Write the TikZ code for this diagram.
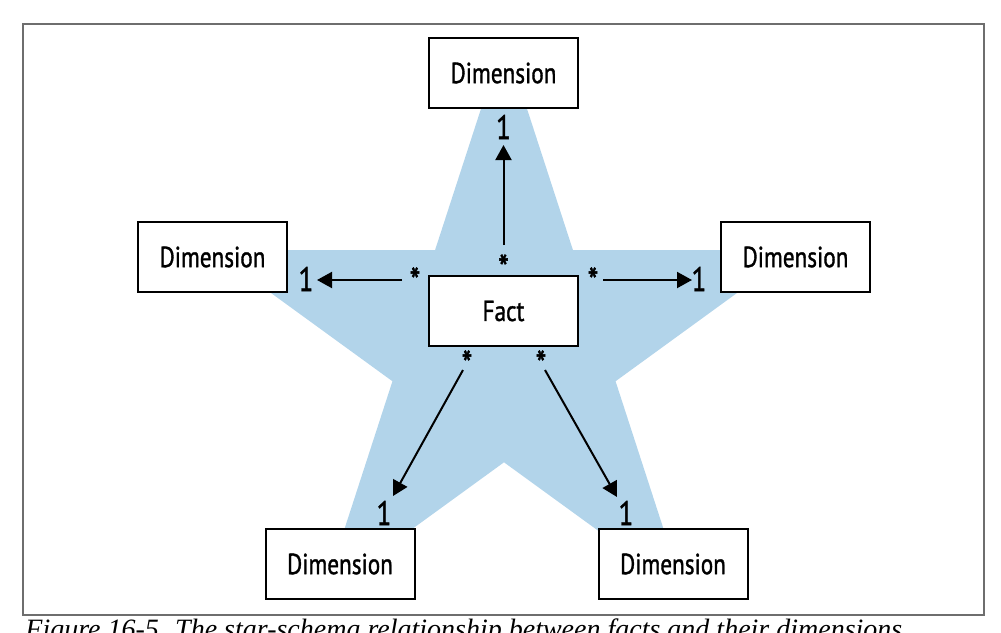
\documentclass[tikz,border=0pt]{standalone}
\usepackage{fontspec}
\setmainfont{PT Sans}[FakeStretch=0.8, FakeBold=1.2]
\newfontfamily\capfont{Liberation Serif}
\definecolor{starblue}{RGB}{178,212,234}
\definecolor{framegray}{RGB}{110,110,110}
\tikzset{
  card/.style={draw, line width=1pt, fill=white, minimum width=74.5pt,
    minimum height=35pt, inner sep=0pt, font=\fontsize{14.5}{16}\selectfont},
  mult/.style={inner sep=0pt, font=\fontsize{17}{19}\selectfont},
  many/.style={inner sep=0pt, font=\fontsize{19}{21}\selectfont},
  link/.style={line width=1pt, -{Triangle[length=7.5pt,width=8pt]}}
}
\usetikzlibrary{arrows.meta}
\begin{document}
\begin{tikzpicture}[x=0.5pt,y=-0.5pt]
  \useasboundingbox (0,0) rectangle (1001,632);
  \clip (0,0) rectangle (1001,632);
  % frame and caption
  \draw[framegray, line width=0.75pt] (23,24) rectangle (984,615);
  \node[anchor=north west, inner sep=0pt, font=\capfont\itshape\fontsize{14}{16}\selectfont]
    (caption) at (25,618) {Figure 16-5. The star-schema relationship between facts and their dimensions};
  % the star behind everything
  \begin{scope}[shift={(504,345)}]
    \fill[starblue] (270:307) -- (306:117.3) -- (342:307) -- (18:117.3)
      -- (54:307) -- (90:117.3) -- (126:307) -- (162:117.3)
      -- (198:307) -- (234:117.3) -- cycle;
  \end{scope}
  % tables
  \node[card] (fact)   at (503.5,311) {Fact};
  \node[card] (dtop)   at (503.5,73)  {Dimension};
  \node[card] (dleft)  at (212.5,257) {Dimension};
  \node[card] (dright) at (795.5,257) {Dimension};
  \node[card] (dbl)    at (340,564)   {Dimension};
  \node[card] (dbr)    at (673,564)   {Dimension};
  % multiplicities
  \node[many] (stop)   at (503.5,268) {*};
  \node[mult] (otop)   at (503.5,127) {1};
  \node[many] (sleft)  at (415,281)   {*};
  \node[mult] (oleft)  at (306,279)   {1};
  \node[many] (sright) at (593,281)   {*};
  \node[mult] (oright) at (699,279)   {1};
  \node[many] (sbl)    at (467,364)   {*};
  \node[mult] (obl)    at (384,513)   {1};
  \node[many] (sbr)    at (541,364)   {*};
  \node[mult] (obr)    at (626,513)   {1};
  % arrow ends
  \coordinate (atop)   at (503.5,245);
  \coordinate (btop)   at (503.5,145);
  \coordinate (aleft)  at (402,280);
  \coordinate (bleft)  at (317,280);
  \coordinate (aright) at (603,280);
  \coordinate (bright) at (692,280);
  \coordinate (abl)    at (463,370);
  \coordinate (bbl)    at (393,496);
  \coordinate (abr)    at (545,370);
  \coordinate (bbr)    at (617,497);
  \begin{scope}[link]
    \draw (atop) to (btop);
    \draw (aleft) to (bleft);
    \draw (aright) to (bright);
    \draw (abl) to (bbl);
    \draw (abr) to (bbr);
  \end{scope}
\end{tikzpicture}
\end{document}
